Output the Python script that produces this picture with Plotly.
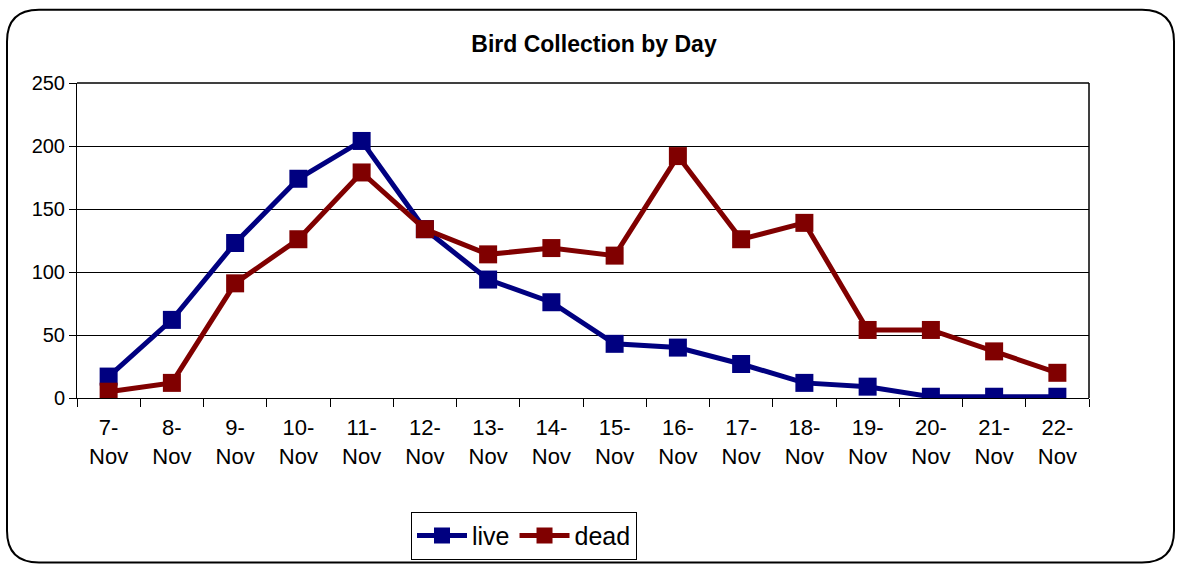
import plotly.graph_objects as go

days = ["7-<br>Nov", "8-<br>Nov", "9-<br>Nov", "10-<br>Nov", "11-<br>Nov", "12-<br>Nov",
        "13-<br>Nov", "14-<br>Nov", "15-<br>Nov", "16-<br>Nov", "17-<br>Nov", "18-<br>Nov",
        "19-<br>Nov", "20-<br>Nov", "21-<br>Nov", "22-<br>Nov"]
live = [17, 62, 123, 174, 204, 134, 94, 76, 43, 40, 27, 12, 9, 1, 1, 1]
dead = [5, 12, 91, 126, 179, 134, 114, 119, 113, 192, 126, 139, 54, 54, 37, 20]

W, H = 1177, 571
L, R, T, B = 77, 1089, 83, 401

fig = go.Figure()
fig.add_trace(go.Scatter(x=days, y=live, name="live", mode="lines+markers",
                         line=dict(color="#000080", width=5),
                         marker=dict(symbol="square", size=18, color="#000080")))
fig.add_trace(go.Scatter(x=days, y=dead, name="dead", mode="lines+markers",
                         line=dict(color="#800000", width=5),
                         marker=dict(symbol="square", size=18, color="#800000")))

def px(x):
    return (x - L) / (R - L)

def py(y):
    return (B - y) / (B - T)

x0, x1, y0, y1, r = 7, 1174, 9, 567, 32
path = (f"M {px(x0 + r)},{py(y0)} L {px(x1 - r)},{py(y0)} "
        f"Q {px(x1)},{py(y0)} {px(x1)},{py(y0 + r)} "
        f"L {px(x1)},{py(y1 - r)} Q {px(x1)},{py(y1)} {px(x1 - r)},{py(y1)} "
        f"L {px(x0 + r)},{py(y1)} Q {px(x0)},{py(y1)} {px(x0)},{py(y1 - r)} "
        f"L {px(x0)},{py(y0 + r)} Q {px(x0)},{py(y0)} {px(x0 + r)},{py(y0)} Z")

fig.update_layout(
    width=W, height=H,
    margin=dict(l=L, r=W - R, t=T, b=H - B),
    paper_bgcolor="white", plot_bgcolor="white",
    font=dict(family="Liberation Sans, Arial, sans-serif", size=20, color="black"),
    title=dict(text="<b>Bird Collection by Day</b>", x=594 / W, xanchor="center",
               y=1 - 44 / H, yanchor="middle", font=dict(size=23)),
    xaxis=dict(type="category", range=[-0.5, 15.5], showline=True, linecolor="black",
               linewidth=1, ticks="outside", tickson="boundaries", ticklen=8,
               tickcolor="black", showgrid=False, mirror=False, ticklabelstandoff=10,
               tickfont=dict(size=22)),
    yaxis=dict(range=[0, 250], dtick=50, showline=True, linecolor="black", linewidth=1,
               ticks="outside", ticklen=7, tickcolor="black", showgrid=True,
               gridcolor="black", gridwidth=1, zeroline=False, tickfont=dict(size=20)),
    legend=dict(orientation="h", x=(524 - L) / (R - L), xanchor="center",
                y=py(540), yanchor="middle", bordercolor="black", borderwidth=1,
                font=dict(size=25), itemwidth=50, tracegroupgap=0, bgcolor="white"),
    shapes=[
        dict(type="rect", xref="paper", yref="paper", x0=1, x1=1, y0=0, y1=1,
             line=dict(color="black", width=1)),
        dict(type="rect", xref="paper", yref="paper", x0=0, x1=1, y0=1, y1=1,
             line=dict(color="black", width=1)),
        dict(type="path", xref="paper", yref="paper", path=path,
             line=dict(color="black", width=2), layer="below"),
    ],
)

fig.write_html("out.html", config={"displayModeBar": False},
               post_script="document.body.style.margin='0';document.body.style.padding='0';")
